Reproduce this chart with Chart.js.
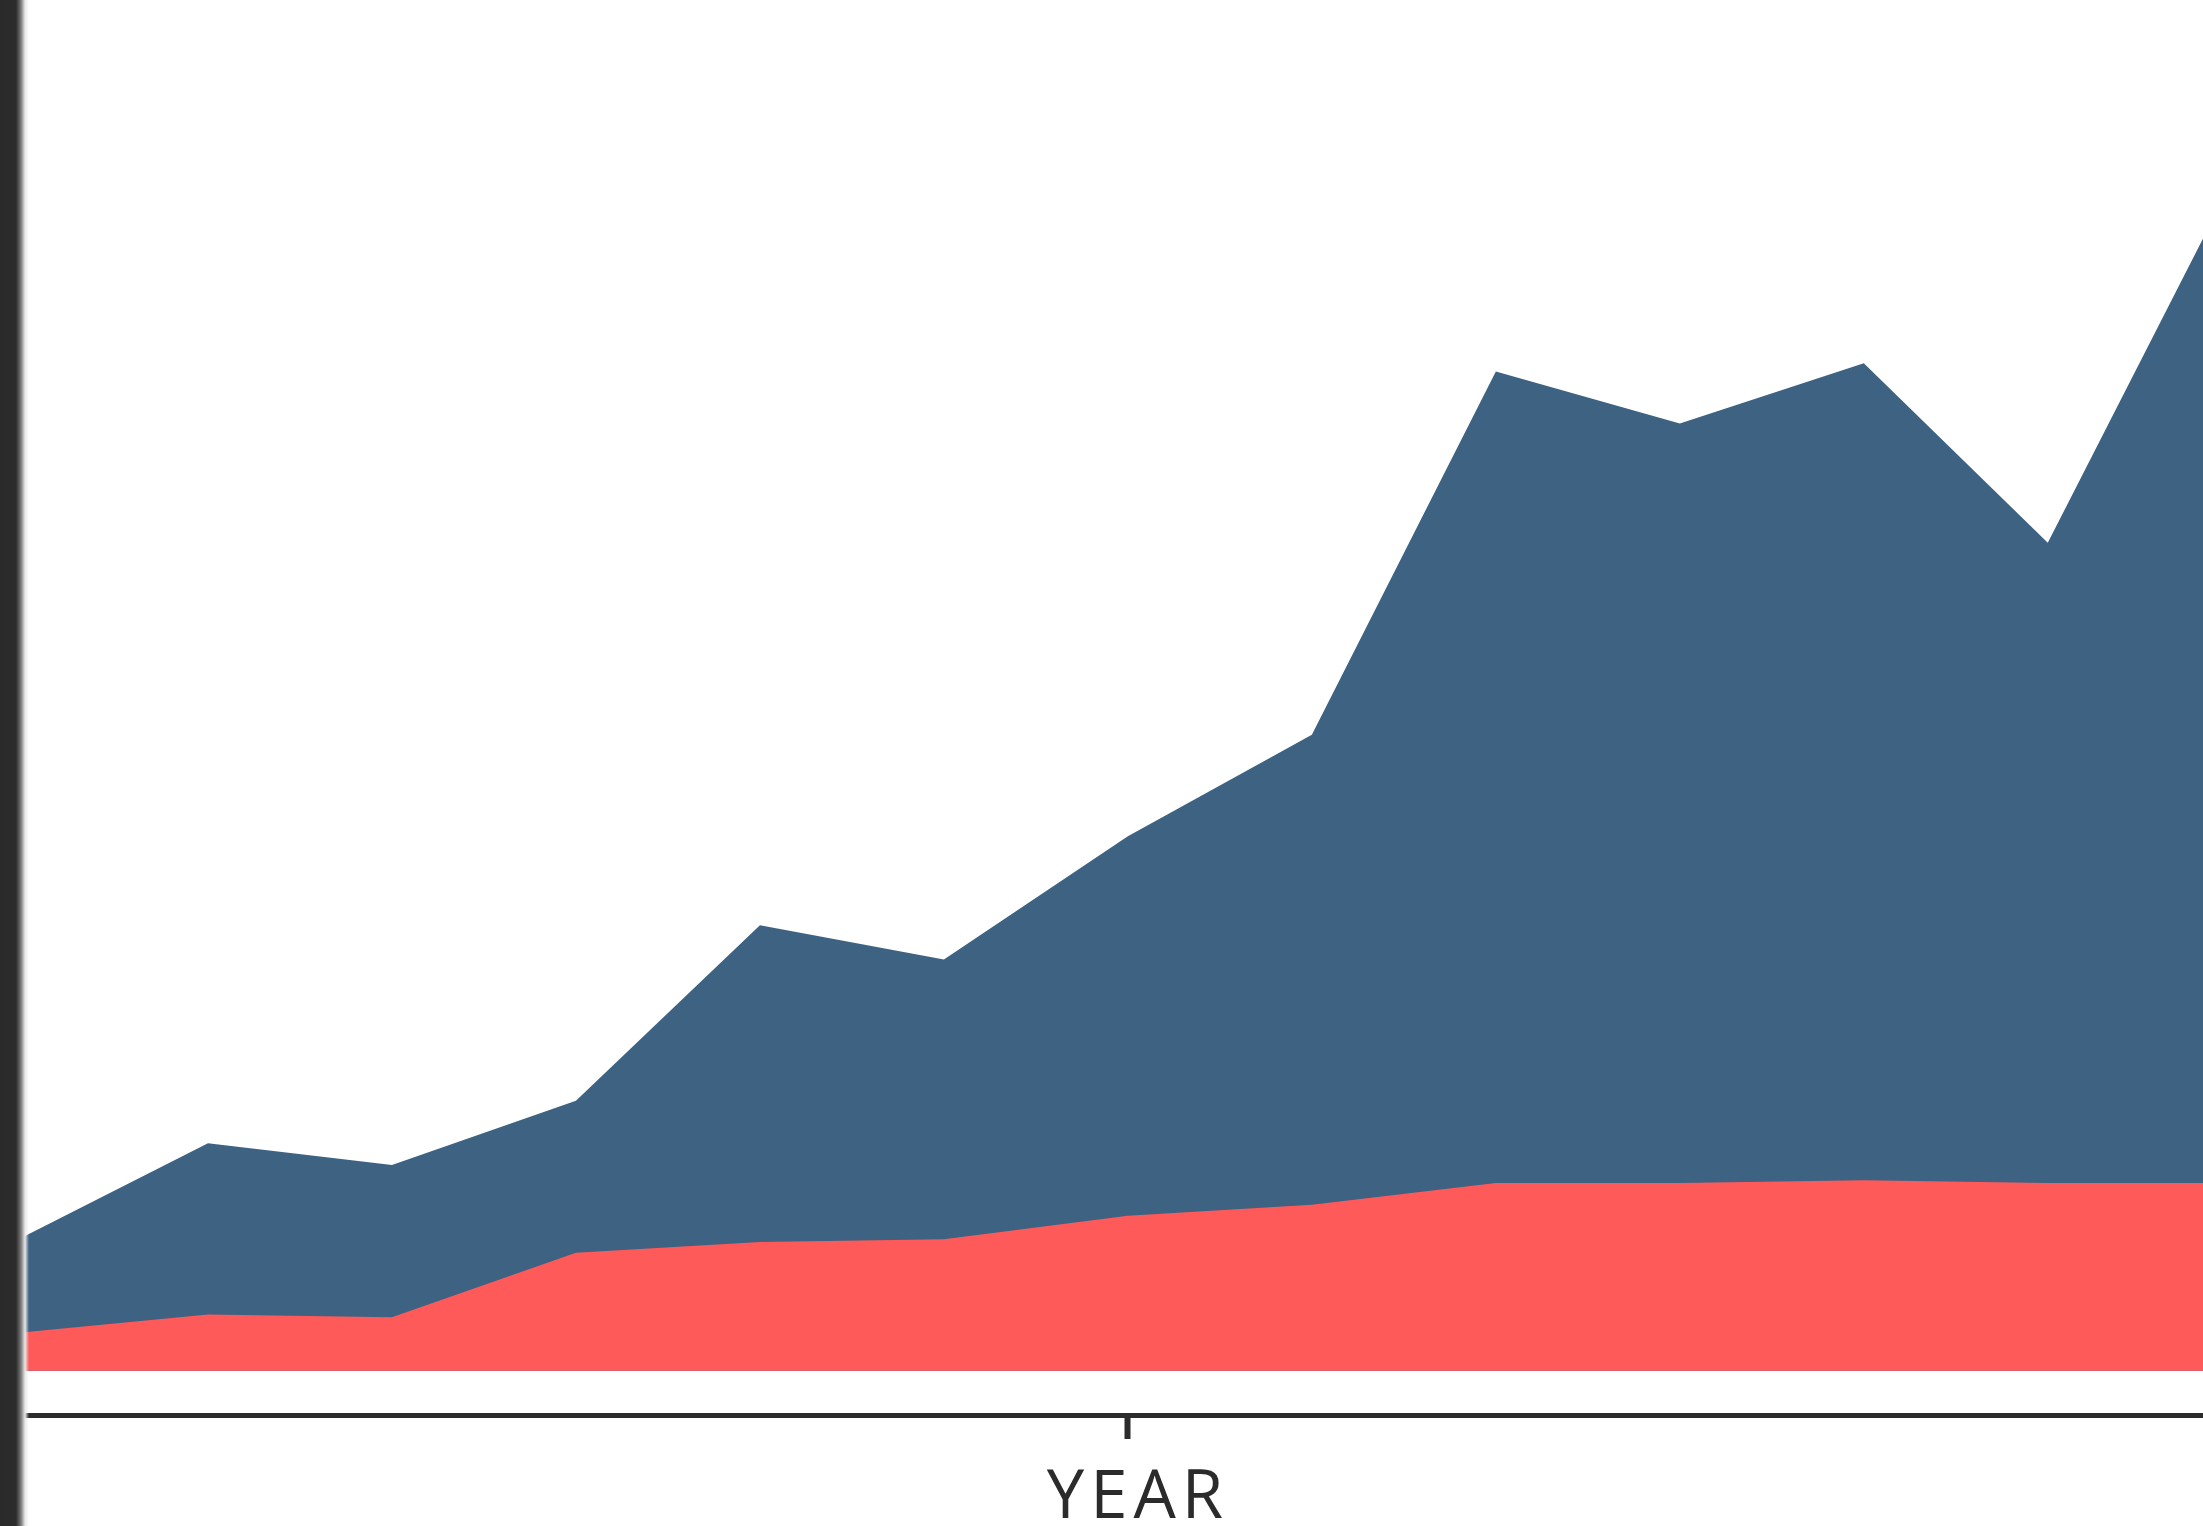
<!DOCTYPE html>
<html>
<head>
<meta charset="utf-8">
<script src="https://cdn.jsdelivr.net/npm/chart.js@4"></script>
<style>
  html, body { margin: 0; padding: 0; background: #fff; overflow: hidden; }
  /* the picture is a crop: the chart runs on past the right edge */
  .frame { position: relative; width: 2203px; height: 1526px; overflow: hidden; }
  .plot-container { position: absolute; left: 0; top: 0; width: 2252px; height: 1526px; }
  .edge {
    position: absolute; left: 0; top: 0; width: 30px; height: 1526px;
    background: linear-gradient(to right, #2a2a2a 0px, #2c2c2c 16px, #7a7a7a 21px, #e8e8e8 25px, rgba(255,255,255,0) 29px);
  }
</style>
</head>
<body>
<div class="frame">
  <div class="plot-container">
    <canvas id="myChart"></canvas>
  </div>
  <div class="edge"></div>
</div>
<script>
// years on the x axis
const years = [2005, 2006, 2007, 2008, 2009, 2010, 2011, 2012, 2013, 2014, 2015, 2016, 2017];
// upper (blue) area
const totalValues = [9.8, 16.6, 15.0, 19.7, 32.5, 30.0, 39.0, 46.4, 72.9, 69.1, 73.5, 60.4, 86.7];
// lower (red) area
const partValues = [2.8, 4.1, 3.9, 8.6, 9.4, 9.6, 11.3, 12.1, 13.7, 13.7, 13.9, 13.7, 13.7];
// the only tick shown on the axis
const tickYears = [2011];

const toPoints = (vals) => vals.map((v, i) => ({ x: years[i], y: v }));

const letterSpacing = {
  id: 'letterSpacing',
  beforeDraw(chart) {
    chart.ctx.letterSpacing = '6px';
  }
};

new Chart(document.getElementById('myChart').getContext('2d'), {
  type: 'line',
  data: {
    datasets: [
      {
        label: 'Part',
        data: toPoints(partValues),
        fill: 'origin',
        backgroundColor: '#ff5a5a',
        borderWidth: 0,
        pointRadius: 0,
        tension: 0
      },
      {
        label: 'Total',
        data: toPoints(totalValues),
        fill: 'origin',
        backgroundColor: '#3e6282',
        borderWidth: 0,
        pointRadius: 0,
        tension: 0
      }
    ]
  },
  options: {
    responsive: true,
    maintainAspectRatio: false,
    animation: false,
    layout: { padding: { left: 24, right: 0, top: 0, bottom: 0 } },
    plugins: {
      legend: { display: false },
      tooltip: { enabled: false }
    },
    scales: {
      x: {
        type: 'linear',
        min: years[0],
        max: years[0] + 12.11,
        afterBuildTicks: (scale) => { scale.ticks = tickYears.map(v => ({ value: v })); },
        border: { display: true, color: '#2b2b2b', width: 5 },
        grid: {
          display: true,
          drawOnChartArea: false,
          drawTicks: true,
          tickLength: 24,
          tickWidth: 6,
          tickColor: '#2b2b2b'
        },
        ticks: { display: false },
        title: {
          display: true,
          text: 'YEAR',
          color: '#2b2b2b',
          font: { family: '"Open Sans"', size: 67, weight: 500, lineHeight: 0.8 },
          padding: { top: 33.4, bottom: 0 }
        }
      },
      y: {
        display: false,
        min: -3.23,
        max: 100
      }
    }
  },
  plugins: [letterSpacing]
});
</script>
</body>
</html>
